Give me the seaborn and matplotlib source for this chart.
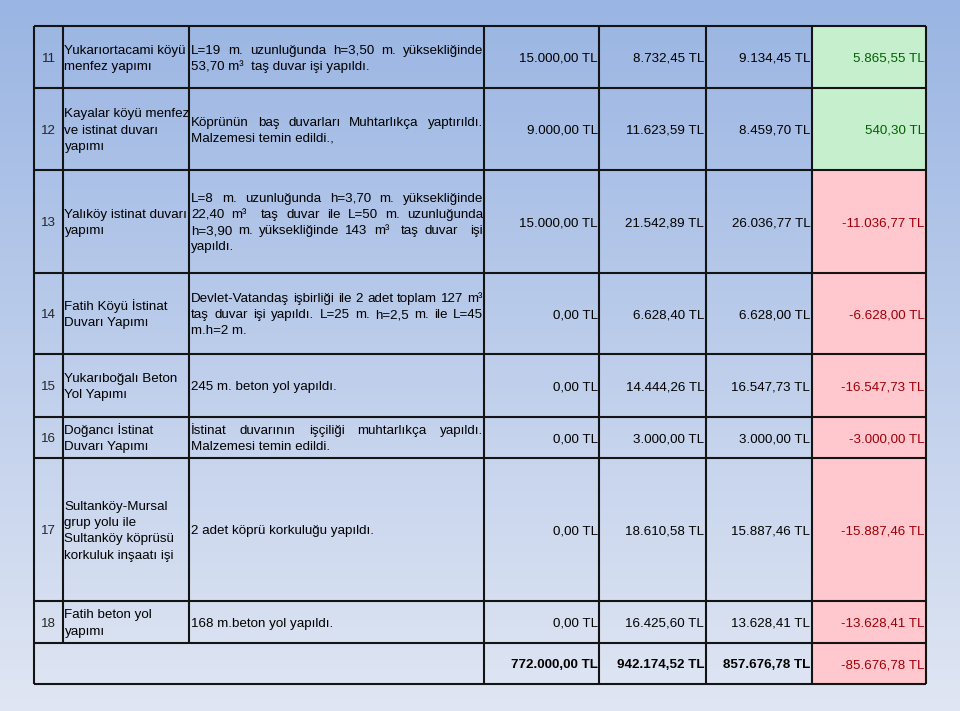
import numpy as np
import matplotlib
matplotlib.use("Agg")
import matplotlib.pyplot as plt
from matplotlib import font_manager
from matplotlib.colors import ListedColormap
import seaborn as sns

# ---------------- data ----------------
nos = [11, 12, 13, 14, 15, 16, 17, 18]
names = [
    "Yukarıortacami köyü\nmenfez yapımı",
    "Kayalar köyü menfez\nve istinat duvarı\nyapımı",
    "Yalıköy istinat duvarı\nyapımı",
    "Fatih Köyü İstinat\nDuvarı Yapımı",
    "Yukarıboğalı Beton\nYol Yapımı",
    "Doğancı İstinat\nDuvarı Yapımı",
    "Sultanköy-Mursal\ngrup yolu ile\nSultanköy köprüsü\nkorkuluk inşaatı işi",
    "Fatih beton yol\nyapımı",
]
descriptions = [
    "L=19 m. uzunluğunda h=3,50 m. yüksekliğinde\n53,70 m³  taş duvar işi yapıldı.",
    "Köprünün baş duvarları Muhtarlıkça yaptırıldı.\nMalzemesi temin edildi.,",
    "L=8 m. uzunluğunda h=3,70 m. yüksekliğinde\n22,40 m³  taş duvar ile L=50 m. uzunluğunda\n"
    "h=3,90 m. yüksekliğinde 143 m³  taş duvar  işi\nyapıldı.",
    "Devlet-Vatandaş işbirliği ile 2 adet toplam 127 m³\ntaş duvar işi yapıldı. L=25 m. h=2,5 m. ile L=45\nm.h=2 m.",
    "245 m. beton yol yapıldı.",
    "İstinat duvarının işçiliği muhtarlıkça yapıldı.\nMalzemesi temin edildi.",
    "2 adet köprü korkuluğu yapıldı.",
    "168 m.beton yol yapıldı.",
]
budget = [15000.00, 9000.00, 15000.00, 0.00, 0.00, 0.00, 0.00, 0.00]
estimate = [8732.45, 11623.59, 21542.89, 6628.40, 14444.26, 3000.00, 18610.58, 16425.60]
spent = [9134.45, 8459.70, 26036.77, 6628.00, 16547.73, 3000.00, 15887.46, 13628.41]
difference = [5865.55, 540.30, -11036.77, -6628.00, -16547.73, -3000.00, -15887.46, -13628.41]
totals = [772000.00, 942174.52, 857676.78, -85676.78]

# ---------------- layout ----------------
W, H = 960, 711
col_edges = [34, 63, 189, 484, 599, 705.5, 811.5, 926]
row_edges = [26, 88, 170, 272.5, 354, 416.5, 458, 601, 642.5, 684]

available = {f.name for f in font_manager.fontManager.ttflist}
if "Liberation Sans Narrow" in available:
    FAMILY, FS = "Liberation Sans Narrow", 11.3
else:
    FAMILY, FS = "Liberation Sans", 9.6
FPX = FS * 100 / 72           # pixels
LS = 16.3                     # line spacing in px
CAP = 0.716 * FPX
GREEN_BG, GREEN_FG = "#C6EFCE", "#006100"
RED_BG, RED_FG = "#FFC7CE", "#9C0006"
LINE = "#141414"


def tl(v):
    s = f"{abs(v):,.2f}".replace(",", "X").replace(".", ",").replace("X", ".")
    return ("-" if v < 0 else "") + s + " TL"


sns.set_theme(style="white")
plt.rcParams["font.family"] = [FAMILY, "Liberation Sans", "DejaVu Sans"]

fig = plt.figure(figsize=(9.6, 7.11), dpi=100)
ax = fig.add_axes([0, 0, 1, 1])
ax.set_xlim(0, W)
ax.set_ylim(H, 0)
ax.axis("off")

# background gradient
top = np.array([154, 181, 227]) / 255
bot = np.array([224, 230, 243]) / 255
t = np.linspace(0, 1, 256)[:, None, None]
grad = top * (1 - t) + bot * t
ax.imshow(grad, extent=[0, W, H, 0], aspect="auto", zorder=0, interpolation="bicubic")

# conditional colouring of the difference column (incl. total row)
diff_all = np.array(difference + [totals[3]])
cmap = ListedColormap([RED_BG, GREEN_BG])
ax.pcolormesh([col_edges[6], col_edges[7]], row_edges,
              (diff_all >= 0).astype(float)[:, None], cmap=cmap, vmin=0, vmax=1, zorder=1)

renderer = fig.canvas.get_renderer()


def text_width(s, **kw):
    tt = ax.text(0, 0, s, fontsize=FS, **kw)
    w = tt.get_window_extent(renderer).width
    tt.remove()
    return w


SPACE = text_width("x x") - text_width("xx")


def baseline(yc):
    return yc + CAP / 2


def draw_lines(lines, x0, x1, yc, justify):
    n = len(lines)
    for k, line in enumerate(lines):
        y = baseline(yc + (k - (n - 1) / 2) * LS)
        last = k == n - 1
        if not justify or last:
            ax.text(x0, y, line, fontsize=FS, ha="left", va="baseline", color="black", zorder=3)
            continue
        tokens = line.split(" ")
        widths = [text_width(tok) if tok else 0 for tok in tokens]
        gaps = len(tokens) - 1
        extra = (x1 - x0 - sum(widths) - gaps * SPACE) / gaps
        gap = SPACE + extra
        x = x0
        for tok, w in zip(tokens, widths):
            if tok:
                ax.text(x, y, tok, fontsize=FS, ha="left", va="baseline", color="black", zorder=3)
            x += w + gap


nrows = len(nos)
for i in range(nrows):
    yc = (row_edges[i] + row_edges[i + 1]) / 2
    ax.text((col_edges[0] + col_edges[1]) / 2, baseline(yc), str(nos[i]), fontsize=FS,
            ha="center", va="baseline", zorder=3)
    draw_lines(names[i].split("\n"), col_edges[1] + 1.5, col_edges[2] - 1.5, yc, False)
    draw_lines(descriptions[i].split("\n"), col_edges[2] + 2, col_edges[3] - 1.0, yc, True)
    vals = [budget[i], estimate[i], spent[i], difference[i]]
    for j, v in enumerate(vals):
        color = "black" if j < 3 else (GREEN_FG if v >= 0 else RED_FG)
        ax.text(col_edges[4 + j] - 1.2, baseline(yc), tl(v), fontsize=FS,
                ha="right", va="baseline", color=color, zorder=3)

# total row
yc = (row_edges[-2] + row_edges[-1]) / 2
for j, v in enumerate(totals):
    color = "black" if j < 3 else (GREEN_FG if v >= 0 else RED_FG)
    ax.text(col_edges[4 + j] - 1.2, baseline(yc), tl(v), fontsize=FS, ha="right", va="baseline",
            color=color, fontweight="bold" if j < 3 else "normal", zorder=3)

# grid lines
lw = 1.5
ax.hlines(row_edges, col_edges[0], col_edges[-1], colors=LINE, linewidth=lw, zorder=4)
for k, x in enumerate(col_edges):
    if k in (1, 2):
        ax.vlines(x, row_edges[0], row_edges[-2], colors=LINE, linewidth=lw, zorder=4)
    else:
        ax.vlines(x, row_edges[0], row_edges[-1], colors=LINE, linewidth=lw, zorder=4)

fig.savefig("out.png", dpi=100)
